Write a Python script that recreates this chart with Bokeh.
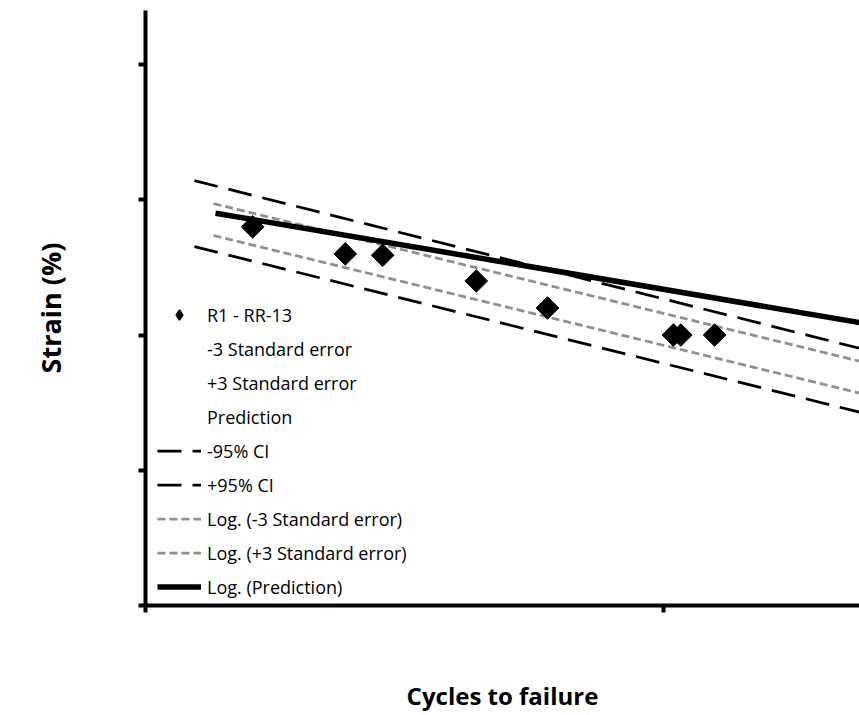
from bokeh.plotting import figure
from bokeh.models import Range1d, FixedTicker, Legend, LegendItem
from bokeh.embed import file_html
from bokeh.resources import INLINE

# ---- data ----
cycles = [1610, 2430, 2870, 4350, 5970, 10450, 10800, 12550]
strain = [0.280, 0.260, 0.259, 0.240, 0.220, 0.200, 0.200, 0.200]

ci_x = [1243, 24000]
ci_upper_y = [0.3142, 0.1900]
ci_lower_y = [0.2654, 0.1428]

se_x = [1353, 24000]
se_plus_y = [0.2972, 0.1805]
se_minus_y = [0.2736, 0.1569]

pred_x = [1365, 24000]
pred_y = [0.2901, 0.2091]

x_ticks = [1000, 10000]
y_ticks = [0.0, 0.1, 0.2, 0.3, 0.4]

p = figure(width=859, height=715, x_axis_type="log",
           output_backend="svg", toolbar_location=None,
           x_range=Range1d(1000, 23895), y_range=Range1d(0, 0.44),
           min_border_left=145, min_border_right=0,
           min_border_top=10, min_border_bottom=110)

p.outline_line_color = None
p.xgrid.visible = False
p.ygrid.visible = False
p.background_fill_color = "white"

for ax in (p.xaxis[0], p.yaxis[0]):
    ax.axis_line_width = 4
    ax.axis_line_color = "black"
    ax.major_tick_line_width = 4
    ax.major_tick_line_color = "black"
    ax.major_tick_out = 7
    ax.major_tick_in = 0
    ax.minor_tick_line_color = None
    ax.major_label_text_font_size = "0px"
    ax.major_label_text_color = None
    ax.axis_label_text_font = "Open Sans"
    ax.axis_label_text_font_style = "bold"
    ax.axis_label_text_color = "black"

p.xaxis.axis_label_text_font_size = "24px"
p.yaxis.axis_label_text_font_size = "27px"
p.xaxis.ticker = FixedTicker(ticks=x_ticks, minor_ticks=[])
p.yaxis.ticker = FixedTicker(ticks=y_ticks, minor_ticks=[])
p.xaxis.axis_label = "Cycles to failure"
p.yaxis.axis_label = "Strain (%)"
p.xaxis.axis_label_standoff = 66
p.yaxis.axis_label_standoff = 70

# invisible series (no line / no marker in the original)
r_sem = p.line(se_x, se_minus_y, line_alpha=0)
r_sep = p.line(se_x, se_plus_y, line_alpha=0)
r_pr = p.line(pred_x, pred_y, line_alpha=0)

r_cim = p.line(ci_x, ci_lower_y, line_color="black", line_width=2.75, line_dash="24 11")
r_cip = p.line(ci_x, ci_upper_y, line_color="black", line_width=2.75, line_dash="24 11")
r_lsm = p.line(se_x, se_minus_y, line_color="#8f8f8f", line_width=2.75, line_dash="8 4")
r_lsp = p.line(se_x, se_plus_y, line_color="#8f8f8f", line_width=2.75, line_dash="8 4")
r_lpr = p.line(pred_x, pred_y, line_color="black", line_width=5.5)

# data points: rotated squares (square-shaped diamonds)
p.scatter(cycles, strain, marker="square", angle=0.785398, size=16,
          fill_color="black", line_color="black")
# same points as diamonds (hidden inside the squares) – used for the legend glyph
r_pts = p.scatter(cycles, strain, marker="diamond", size=19,
                  fill_color="black", line_color="black", line_width=1.5)

legend = Legend(items=[
    LegendItem(label="R1 - RR-13", renderers=[r_pts]),
    LegendItem(label="-3 Standard error", renderers=[r_sem]),
    LegendItem(label="+3 Standard error", renderers=[r_sep]),
    LegendItem(label="Prediction", renderers=[r_pr]),
    LegendItem(label="-95% CI", renderers=[r_cim]),
    LegendItem(label="+95% CI", renderers=[r_cip]),
    LegendItem(label="Log. (-3 Standard error)", renderers=[r_lsm]),
    LegendItem(label="Log. (+3 Standard error)", renderers=[r_lsp]),
    LegendItem(label="Log. (Prediction)", renderers=[r_lpr]),
], location=(12, 6))
legend.label_text_font = "Open Sans"
legend.label_text_font_size = "18px"
legend.label_text_color = "black"
legend.glyph_width = 44
legend.glyph_height = 25
legend.label_height = 25
legend.spacing = 9
legend.padding = 8
legend.margin = 0
legend.label_standoff = 6
legend.border_line_color = None
legend.background_fill_color = "white"
legend.background_fill_alpha = 1
p.add_layout(legend)

open("out.html", "w").write(file_html(p, INLINE))
